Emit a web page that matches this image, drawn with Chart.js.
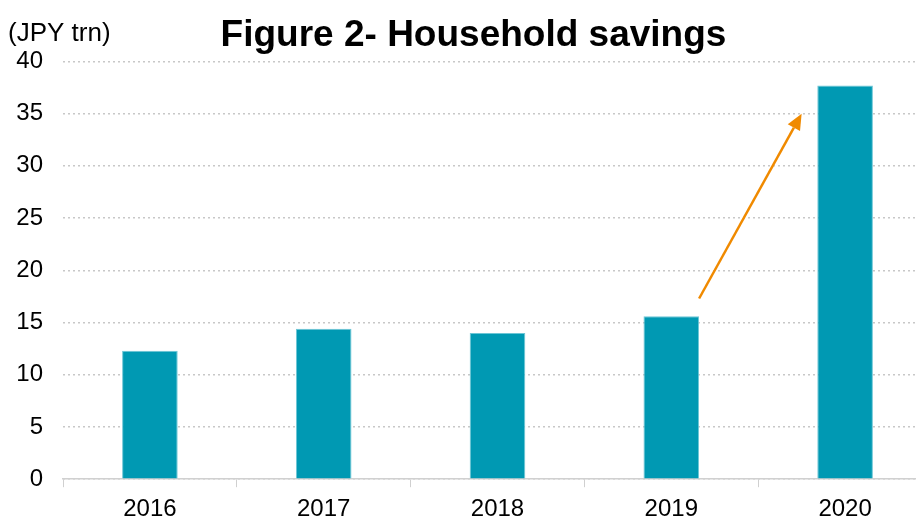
<!DOCTYPE html>
<html>
<head>
<meta charset="utf-8">
<script src="https://cdn.jsdelivr.net/npm/chart.js@4/dist/chart.umd.min.js"></script>
<style>
  html, body { margin:0; padding:0; background:#fff; overflow:hidden; }
  #wrap { width:932px; height:532px; position:relative; }
</style>
</head>
<body>
<div id="wrap"><canvas id="c"></canvas></div>
<script>
// household savings, JPY trn
const years = ['2016', '2017', '2018', '2019', '2020'];
const savings = [12.3, 14.4, 14.0, 15.6, 37.7];
const yTicks = [0, 5, 10, 15, 20, 25, 30, 35, 40];
// arrow: [category index, value]
const arrowFrom = [3.16, 17.3];
const arrowTo = [3.75, 35];

const FONT = 'Liberation Sans, Arial, sans-serif';

// unit label + orange arrow
const extras = {
  id: 'extras',
  afterDatasetsDraw(chart){
    const {ctx, scales:{x, y}} = chart;
    const px = i => x.getPixelForValue(0) + i * (x.getPixelForValue(1) - x.getPixelForValue(0));
    const x1 = px(arrowFrom[0]), y1 = y.getPixelForValue(arrowFrom[1]);
    const x2 = px(arrowTo[0]), y2 = y.getPixelForValue(arrowTo[1]);
    const ang = Math.atan2(y2 - y1, x2 - x1);
    const head = 16, hw = 7;
    ctx.save();
    ctx.strokeStyle = '#f08a00';
    ctx.fillStyle = '#f08a00';
    ctx.lineWidth = 2.5;
    ctx.beginPath();
    ctx.moveTo(x1, y1);
    ctx.lineTo(x2 - Math.cos(ang) * head, y2 - Math.sin(ang) * head);
    ctx.stroke();
    ctx.beginPath();
    ctx.moveTo(x2, y2);
    const bx = x2 - Math.cos(ang) * head, by = y2 - Math.sin(ang) * head;
    ctx.lineTo(bx + Math.sin(ang) * hw, by - Math.cos(ang) * hw);
    ctx.lineTo(bx - Math.sin(ang) * hw, by + Math.cos(ang) * hw);
    ctx.closePath();
    ctx.fill();
    ctx.fillStyle = '#000';
    ctx.font = '26px ' + FONT;
    ctx.textBaseline = 'middle';
    ctx.textAlign = 'left';
    ctx.fillText('(JPY trn)', 8, 34);
    ctx.restore();
  }
};

new Chart(document.getElementById('c'), {
  type: 'bar',
  data: {
    labels: years,
    datasets: [{
      data: savings,
      backgroundColor: '#0099b3',
      borderColor: '#6cc6d6',
      borderWidth: 1,
      barPercentage: 0.32,
      categoryPercentage: 1
    }]
  },
  options: {
    responsive: true,
    maintainAspectRatio: false,
    animation: false,
    layout: { padding: { left: 15, right: 0, top: 0, bottom: 0 } },
    plugins: {
      legend: { display: false },
      tooltip: { enabled: false },
      title: {
        display: true,
        text: 'Figure 2- Household savings',
        color: '#000',
        font: { family: FONT, size: 37, weight: 'bold' },
        padding: { top: 14, bottom: 3 }
      }
    },
    scales: {
      x: {
        grid: { display: true, drawOnChartArea: false, offset: true, tickLength: 8, color: '#d0d0d0' },
        border: { color: '#d0d0d0', width: 1.5 },
        ticks: { color: '#000', font: { family: FONT, size: 24 }, padding: 8 }
      },
      y: {
        min: 0, max: 40,
        afterBuildTicks: s => { s.ticks = yTicks.map(v => ({ value: v })); },
        afterFit: s => { s.width = 48; },
        grid: { drawTicks: false, color: '#c8c8c8', lineWidth: 1.5 },
        border: { display: false, dash: [2, 3] },
        ticks: { color: '#000', font: { family: FONT, size: 24 }, padding: 20 }
      }
    }
  },
  plugins: [extras]
});
</script>
</body>
</html>
